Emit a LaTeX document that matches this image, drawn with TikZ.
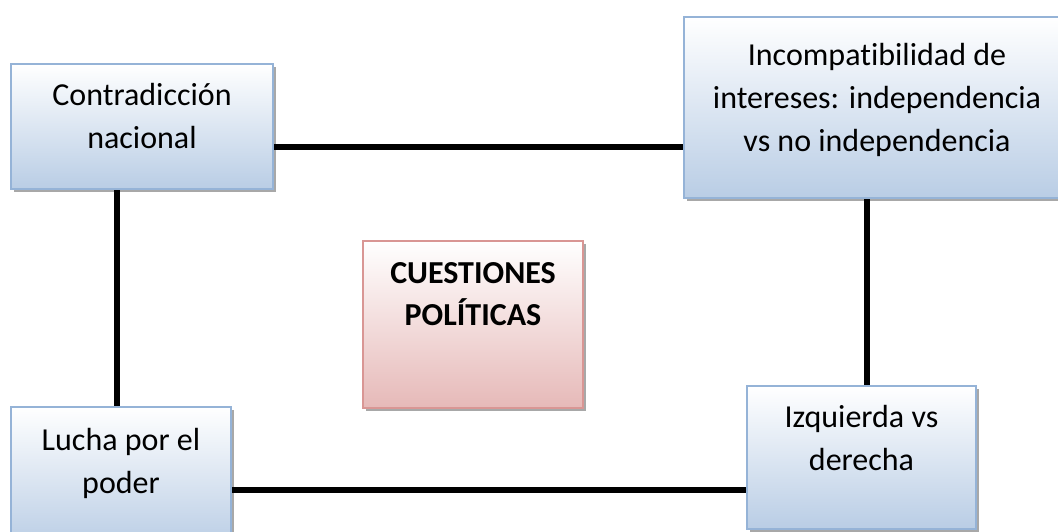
\documentclass[tikz,border=0pt]{standalone}
\usepackage{fontspec}
\setmainfont{Carlito}[RawFeature=-liga]
\usetikzlibrary{shadows}
\definecolor{bluebd}{HTML}{95B3D7}
\definecolor{bluebot}{HTML}{B9CDE5}
\definecolor{pinkbd}{HTML}{D99694}
\definecolor{pinkbot}{HTML}{E6B9B8}
\definecolor{shadowc}{HTML}{A8A8A8}
\newcommand{\firstl}{\rule{0pt}{30pt}}
\begin{document}
\begin{tikzpicture}[x=1pt,y=-1pt,
  boxbase/.style={draw, line width=2pt, rectangle, inner sep=0pt, anchor=north west,
    drop shadow={shadow xshift=3pt, shadow yshift=-3pt, fill=shadowc, opacity=1}},
  bluebox/.style={boxbase, draw=bluebd, top color=white, bottom color=bluebot},
  pinkbox/.style={boxbase, draw=pinkbd, top color=white, bottom color=pinkbot},
  lbl/.style={anchor=north, align=center, inner sep=0pt, font=\fontsize{32}{43}\selectfont},
  conn/.style={line width=6pt, black}]
\useasboundingbox (0,0) rectangle (1058,531);
\fill[white] (0,0) rectangle (1058,531);

\node[bluebox, minimum width=262pt, minimum height=125pt] (b1) at (10,63) {};
\node[bluebox, minimum width=386pt, minimum height=181pt] (b2) at (683,16) {};
\node[pinkbox, minimum width=220pt, minimum height=167pt] (b3) at (362,240) {};
\node[bluebox, minimum width=220pt, minimum height=140pt] (b4) at (10,406) {};
\node[bluebox, minimum width=229pt, minimum height=143pt] (b5) at (746,385) {};

\node[lbl] (t1) at ([yshift=-12pt]b1.north) {\firstl Contradicción\\nacional};
\node[lbl] (t2) at ([yshift=-19pt]b2.north) {\firstl Incompatibilidad de\\intereses: independencia\\vs no independencia};
\node[lbl, font=\fontsize{32}{42}\selectfont\bfseries] (t3) at ([yshift=-13pt]b3.north) {\firstl CUESTIONES\\POLÍTICAS};
\node[lbl] (t4) at ([yshift=-14pt]b4.north) {\firstl Lucha por el\\poder};
\node[lbl] (t5) at ([yshift=-12pt]b5.north) {\firstl Izquierda vs\\derecha};

\coordinate (h1) at (0,147);
\coordinate (h2) at (0,490);
\coordinate (v1) at (117,0);
\coordinate (v2) at (867,0);
\draw[conn] (b1.east |- h1) -- (b2.west |- h1);
\draw[conn] (b1.south -| v1) -- (b4.north -| v1);
\draw[conn] (b2.south -| v2) -- (b5.north -| v2);
\draw[conn] (b4.east |- h2) -- (b5.west |- h2);
\end{tikzpicture}
\end{document}
